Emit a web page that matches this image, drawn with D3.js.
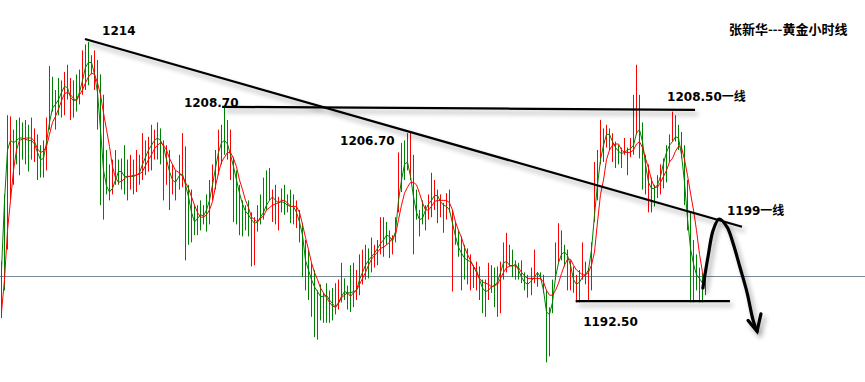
<!DOCTYPE html>
<html><head><meta charset="utf-8">
<script src="https://cdn.jsdelivr.net/npm/d3@7"></script>
<style>html,body{margin:0;padding:0;background:#fff;overflow:hidden}</style>
</head><body>
<svg id="chart" width="865" height="382"></svg>
<script>
// ---- data (hourly gold bars, price in USD) ----
const barHigh = [
1195.8,1201.4,1208.0,1207.9,1206.8,1207.6,1207.8,1207.4,1207.6,1207.2,1207.8,1206.9,1206.4,1205.5,1205.9,1207.8,1212.1,1211.2,1210.1,1211.1,
1210.9,1211.6,1212.2,1211.1,1210.9,1211.4,1211.8,1213.4,1213.9,1214.1,1213.0,1213.4,1212.6,1211.4,1209.7,1205.1,1203.9,1204.3,1205.1,1204.3,
1204.4,1205.5,1204.3,1204.7,1204.3,1205.1,1204.7,1206.5,1205.9,1206.2,1207.2,1206.8,1207.4,1206.9,1205.9,1205.5,1205.1,1203.9,1203.4,1204.7,
1206.5,1205.4,1202.2,1201.8,1200.5,1200.5,1200.9,1200.5,1201.4,1202.6,1203.9,1205.1,1206.8,1207.2,1208.6,1207.6,1206.8,1204.5,
1203.4,1202.2,1200.9,1200.5,1200.9,1199.9,1199.5,1200.5,1201.4,1202.8,1203.4,1203.6,1201.8,1202.2,1201.2,1201.9,1202.2,1201.4,1201.8,1201.4,
1200.9,1200.1,1199.0,1197.6,1196.8,1195.7,1195.1,1193.4,1193.9,1193.2,1194.0,1193.4,1193.6,1194.0,1194.3,1195.7,1194.4,1193.8,
1195.5,1195.7,1195.1,1196.4,1196.8,1197.2,1196.9,1197.8,1197.2,1197.6,1199.5,1199.5,1199.1,1198.4,1198.0,1199.5,1204.9,1205.7,1205.9,1206.5,
1206.6,1204.7,1201.8,1200.1,1200.9,1200.5,1201.4,1203.2,1202.6,1201.8,1201.4,1200.7,1201.5,1201.8,1200.1,1199.1,1198.4,1197.9,
1197.2,1196.9,1196.4,1195.5,1195.8,1195.4,1194.3,1194.3,1195.7,1195.5,1195.3,1195.4,1195.8,1197.4,1198.2,1197.2,1196.8,1195.9,1195.7,1195.9,
1194.9,1194.7,1195.3,1196.8,1194.9,1194.9,1194.7,1193.4,1192.0,1194.3,1197.4,1199.0,1198.4,1197.2,1196.8,1195.9,1195.4,1194.7,1195.1,1197.4,
1195.8,1195.3,1197.4,1204.1,1205.1,1207.6,1206.9,1207.2,1206.9,1206.5,1205.8,1205.5,1205.3,1206.1,1205.3,1206.1,1209.7,1212.2,1209.7,1207.4,
1204.7,1203.9,1202.8,1202.2,1203.0,1203.9,1204.4,1205.5,1206.4,1208.3,1208.0,1207.2,1206.6,1205.5,1202.6,1199.9,1197.6,1196.4,1195.3,1194.9,
1194.9];
const barLow = [
1191.1,1193.4,1196.8,1200.9,1202.2,1203.9,1203.0,1204.3,1203.9,1203.3,1204.3,1204.1,1202.6,1202.8,1202.8,1203.4,1206.8,1208.3,1206.8,1208.0,
1207.8,1208.0,1209.3,1207.6,1207.8,1208.3,1208.9,1209.7,1210.1,1210.5,1211.4,1210.1,1206.8,1200.5,1199.3,1201.4,1200.9,1201.4,1202.2,1202.2,
1201.8,1201.4,1200.9,1201.8,1201.4,1201.6,1202.2,1202.6,1203.0,1203.3,1203.4,1204.3,1204.3,1203.9,1200.9,1202.2,1200.1,1201.4,1200.9,1201.8,
1202.0,1195.9,1197.2,1197.4,1198.0,1198.0,1198.4,1198.9,1198.3,1198.9,1200.9,1201.8,1203.0,1203.9,1204.7,1204.3,1202.6,1199.1,
1198.9,1198.0,1197.9,1198.4,1197.9,1195.4,1195.5,1198.3,1198.9,1199.3,1200.1,1200.9,1199.1,1198.9,1198.4,1199.9,1199.7,1199.9,1199.0,1198.9,
1198.6,1197.4,1194.5,1193.4,1192.6,1191.2,1189.5,1189.3,1190.9,1190.7,1190.7,1190.7,1190.9,1191.4,1191.8,1192.4,1192.6,1191.8,
1191.6,1192.0,1192.6,1193.0,1193.9,1194.3,1194.4,1194.9,1195.3,1195.5,1196.4,1196.2,1197.2,1196.1,1196.4,1197.4,1199.9,1201.6,1202.6,1203.4,
1202.6,1196.4,1199.3,1197.9,1198.9,1198.4,1199.3,1199.5,1200.1,1199.0,1199.5,1198.2,1199.3,1199.9,1193.3,1197.2,1196.2,1193.4,
1194.3,1193.9,1193.4,1193.6,1193.4,1192.6,1191.5,1191.2,1192.6,1193.2,1192.0,1191.2,1191.5,1194.3,1194.9,1195.4,1194.5,1194.3,1194.3,1194.0,
1193.4,1192.8,1193.0,1194.0,1193.7,1194.3,1193.2,1187.4,1187.9,1191.5,1194.3,1195.7,1195.9,1195.4,1193.4,1193.4,1193.2,1192.4,1192.4,1194.3,
1193.9,1192.6,1193.4,1199.1,1200.9,1203.9,1204.1,1205.3,1205.1,1204.1,1203.6,1203.9,1203.6,1204.7,1203.0,1204.5,1204.7,1206.4,1204.4,1201.8,
1201.4,1199.9,1199.9,1200.4,1201.1,1201.4,1201.9,1202.4,1204.1,1205.8,1205.8,1205.1,1204.4,1200.5,1198.4,1192.4,1192.4,1193.4,1192.4,1192.4,
1193.0];
const fastMA = [
1195.1,1200.9,1205.1,1205.9,1205.7,1205.9,1206.1,1206.1,1206.0,1205.9,1205.9,1205.6,1204.9,1204.3,1204.4,1205.7,1207.4,1208.6,1208.9,1209.3,
1209.9,1210.4,1210.3,1209.5,1209.2,1209.3,1209.9,1210.9,1212.0,1212.4,1212.4,1211.4,1209.9,1206.8,1203.4,1202.1,1201.6,1201.9,1202.6,1203.3,
1203.3,1202.9,1202.9,1202.9,1202.9,1203.0,1203.2,1203.9,1204.5,1205.1,1205.5,1205.9,1206.1,1205.9,1205.4,1204.3,1203.3,1202.6,1202.4,1203.0,
1203.1,1202.2,1201.2,1199.9,1199.1,1199.4,1199.7,1199.6,1200.1,1200.9,1202.2,1203.6,1204.9,1205.7,1205.9,1205.6,1204.7,1203.7,
1202.6,1201.5,1200.6,1200.0,1199.7,1199.3,1199.0,1199.1,1199.5,1199.9,1200.5,1200.9,1201.2,1200.9,1200.7,1200.8,1200.7,1200.5,1200.4,1200.4,
1199.9,1199.1,1198.0,1195.9,1195.1,1194.3,1193.7,1193.3,1192.9,1192.9,1193.0,1192.6,1192.3,1192.0,1192.4,1192.9,1193.3,1193.2,
1193.2,1193.3,1193.4,1194.3,1194.9,1195.5,1195.9,1196.2,1196.5,1196.9,1197.3,1197.6,1198.0,1197.9,1197.5,1198.3,1200.9,1202.6,1203.9,1204.1,
1202.9,1201.2,1199.9,1199.3,1199.4,1200.1,1200.6,1200.9,1201.3,1201.3,1200.8,1200.5,1200.4,1200.1,1199.0,1197.9,1197.0,1196.5,
1196.1,1195.9,1195.8,1195.4,1195.1,1194.3,1193.6,1193.3,1193.4,1193.7,1193.8,1194.1,1194.9,1195.7,1195.8,1195.5,1195.4,1195.6,1195.1,1194.5,
1194.1,1193.9,1194.2,1194.5,1194.9,1194.5,1193.4,1191.6,1191.4,1192.4,1194.5,1195.7,1196.4,1196.6,1196.3,1195.5,1194.3,1193.9,1194.1,1194.5,
1194.7,1195.1,1196.8,1199.7,1202.2,1204.3,1205.5,1206.4,1206.4,1205.8,1205.3,1205.0,1204.8,1204.9,1205.1,1205.2,1205.5,1206.5,1206.8,1205.8,
1203.9,1202.4,1201.9,1201.9,1202.2,1202.9,1204.0,1204.9,1205.5,1205.8,1206.2,1206.1,1204.7,1202.4,1199.4,1196.9,1195.6,1194.7,1194.4,1194.0,
1193.9];
const slowMA = [
1191.6,1194.3,1198.4,1200.9,1203.4,1205.1,1205.9,1206.0,1206.1,1206.1,1206.1,1205.8,1205.2,1204.9,1205.0,1205.4,1206.4,1207.4,1207.9,1208.5,
1209.2,1209.8,1209.9,1209.7,1209.4,1209.2,1209.7,1210.1,1210.7,1211.2,1211.5,1211.4,1210.7,1209.7,1208.2,1206.8,1205.4,1203.7,1202.8,1202.4,
1202.5,1202.7,1202.9,1202.9,1203.0,1203.0,1203.1,1203.3,1203.8,1204.3,1204.7,1205.2,1205.5,1205.7,1205.5,1205.1,1204.4,1203.9,1203.4,1203.2,
1202.9,1202.4,1201.9,1201.2,1200.5,1199.9,1199.5,1199.5,1199.7,1200.1,1200.8,1202.1,1203.2,1204.1,1204.5,1204.9,1204.9,1204.4,
1203.7,1202.6,1201.8,1200.9,1200.3,1199.5,1199.3,1199.1,1199.4,1199.6,1200.1,1200.3,1200.5,1200.6,1200.7,1200.9,1200.9,1200.7,1200.4,1200.4,
1200.4,1199.9,1198.9,1197.8,1196.8,1195.7,1194.9,1194.3,1193.6,1193.2,1192.8,1192.4,1192.1,1192.0,1192.3,1192.8,1193.0,1193.2,
1192.9,1193.2,1193.4,1193.9,1194.4,1194.9,1195.5,1196.0,1196.3,1196.6,1196.9,1197.0,1197.2,1197.4,1197.8,1198.0,1199.3,1200.5,1201.5,1202.0,
1202.4,1202.4,1202.2,1201.5,1200.7,1200.1,1200.1,1200.4,1200.8,1200.9,1200.9,1200.9,1200.9,1200.7,1200.1,1199.1,1198.4,1197.8,
1197.0,1196.4,1195.9,1195.4,1194.9,1194.4,1194.1,1194.0,1193.9,1193.7,1193.8,1193.9,1194.4,1194.9,1195.3,1195.4,1195.5,1195.4,1195.3,1194.9,
1194.6,1194.4,1194.4,1194.4,1194.4,1194.4,1194.1,1193.4,1193.0,1193.0,1193.4,1194.0,1194.8,1195.5,1196.0,1196.0,1195.5,1195.1,1194.9,1194.7,
1194.7,1194.9,1195.5,1196.6,1199.1,1201.4,1202.6,1204.3,1205.1,1205.5,1205.6,1205.6,1205.1,1204.9,1204.9,1204.9,1205.1,1205.6,1205.8,1205.3,
1204.4,1203.6,1202.6,1202.0,1202.0,1202.4,1202.9,1203.4,1204.1,1204.4,1205.0,1205.4,1205.3,1204.3,1203.0,1201.5,1200.1,1198.4,1196.4,1194.9,
1193.9];
// bar direction: r = down bar (red), g = up bar (green)
const barDir = ("rgrrggrgrgrrggrrrgrgrrgrggrrgggrggrggrrg" +
  "rggrgrgrgrgrrggrgrgrrggrgrgrgrrgrgggrg" +
  "gggrggrrgrggrrrggrggrggggggrgrgrgrrrgr" +
  "grrgrrgrrgrgggrrrrggrggrgrrgrgrgrgrggg" +
  "grrgrgggrggrrrrggrgrggrrggrgrggrgggrgrrr" +
  "grgrrrgrgrrgrrgrrrgggrggrrrgrrrgggggggggr").split("");

const currentPrice = 1194.6;
const trendDown = [[27.9, 1214.35], [246.3, 1198.7]];
const resistance = [[73.5, 1208.7], [230.7, 1208.45]];
const support = [[191.0, 1192.5], [242.3, 1192.5]];
const forecastPath = [[233.3,1193.6],[235.0,1196.2],[236.7,1198.4],[238.7,1199.35],[241.3,1198.7],
  [243.3,1197.35],[245.6,1195.35],[248.0,1193.2],[250.0,1190.9],[251.3,1190.0]];
const arrowHead = [[248.3,1190.9],[251.3,1190.0],[252.6,1191.45]];
const priceLabels = [
  {text:"1214", i:33.6, p:1214.7},
  {text:"1208.70", i:60.8, p:1208.7},
  {text:"1206.70", i:112.7, p:1205.5},
  {text:"1208.50一线", i:221.4, p:1209.2},
  {text:"1199一线", i:241.3, p:1199.7},
  {text:"1192.50", i:193.5, p:1190.4}
];
const title = "张新华---黄金小时线";

// ---- drawing ----
const W = 865, H = 382;
const svg = d3.select("#chart");
const x = d3.scaleLinear().domain([0, 234]).range([1, 705]);
const y = d3.scaleLinear().domain([1214, 1192.5]).range([43.2, 301.2]);

const defs = svg.append("defs");
const flt = defs.append("filter").attr("id","shadow").attr("filterUnits","userSpaceOnUse")
  .attr("x",0).attr("y",0).attr("width",W).attr("height",H);
flt.append("feDropShadow").attr("dx",3).attr("dy",4).attr("stdDeviation",2.8)
  .attr("flood-color","#000").attr("flood-opacity",0.35);

svg.append("rect").attr("width",W).attr("height",H).attr("fill","#fff");

// current price line
svg.append("line").attr("x1",0).attr("x2",W)
  .attr("y1",Math.round(y(currentPrice))+0.5).attr("y2",Math.round(y(currentPrice))+0.5)
  .attr("stroke","#7a8a99").attr("stroke-width",1);

const RED = "#ff0000", GREEN = "#008000";
// bars
svg.append("g").selectAll("line").data(barHigh).join("line")
  .attr("x1",(d,i)=>Math.round(x(i))+0.5).attr("x2",(d,i)=>Math.round(x(i))+0.5)
  .attr("y1",d=>y(d)).attr("y2",(d,i)=>y(barLow[i]))
  .attr("stroke",(d,i)=>barDir[i]==="g"?GREEN:RED).attr("stroke-width",1);

const lineGen = d3.line().x((d,i)=>Math.round(x(i))+0.5).y(d=>y(d));
svg.append("path").attr("d",lineGen(fastMA)).attr("fill","none").attr("stroke",GREEN).attr("stroke-width",1);
svg.append("path").attr("d",lineGen(slowMA)).attr("fill","none").attr("stroke",RED).attr("stroke-width",1);

// annotations
const seg = d3.line().x(d=>x(d[0])).y(d=>y(d[1]));
const ann = svg.append("g").attr("filter","url(#shadow)");
ann.append("path").attr("d",seg(trendDown)).attr("stroke","#000").attr("stroke-width",2.2).attr("fill","none");
ann.append("path").attr("d",seg(resistance)).attr("stroke","#000").attr("stroke-width",2.2).attr("fill","none");
ann.append("path").attr("d",seg(support)).attr("stroke","#000").attr("stroke-width",2.2).attr("fill","none");
ann.append("path").attr("d",d3.line().x(d=>x(d[0])).y(d=>y(d[1])).curve(d3.curveCatmullRom)(forecastPath))
  .attr("stroke","#000").attr("stroke-width",3.2).attr("fill","none").attr("stroke-linecap","round");
ann.append("path").attr("d",seg(arrowHead)).attr("stroke","#000").attr("stroke-width",3.2)
  .attr("fill","none").attr("stroke-linejoin","miter").attr("stroke-linecap","round");

// labels
svg.append("g").selectAll("text").data(priceLabels).join("text")
  .attr("x",d=>x(d.i)).attr("y",d=>y(d.p))
  .attr("font-family","'DejaVu Sans', 'Noto Sans CJK SC', sans-serif").attr("font-weight","bold")
  .attr("font-size",12).attr("fill","#000").text(d=>d.text);

svg.append("text").attr("x",729).attr("y",34)
  .attr("font-family","'Noto Sans CJK SC', sans-serif").attr("font-weight","bold")
  .attr("font-size",13).attr("fill","#000").text(title);
</script>
</body></html>
